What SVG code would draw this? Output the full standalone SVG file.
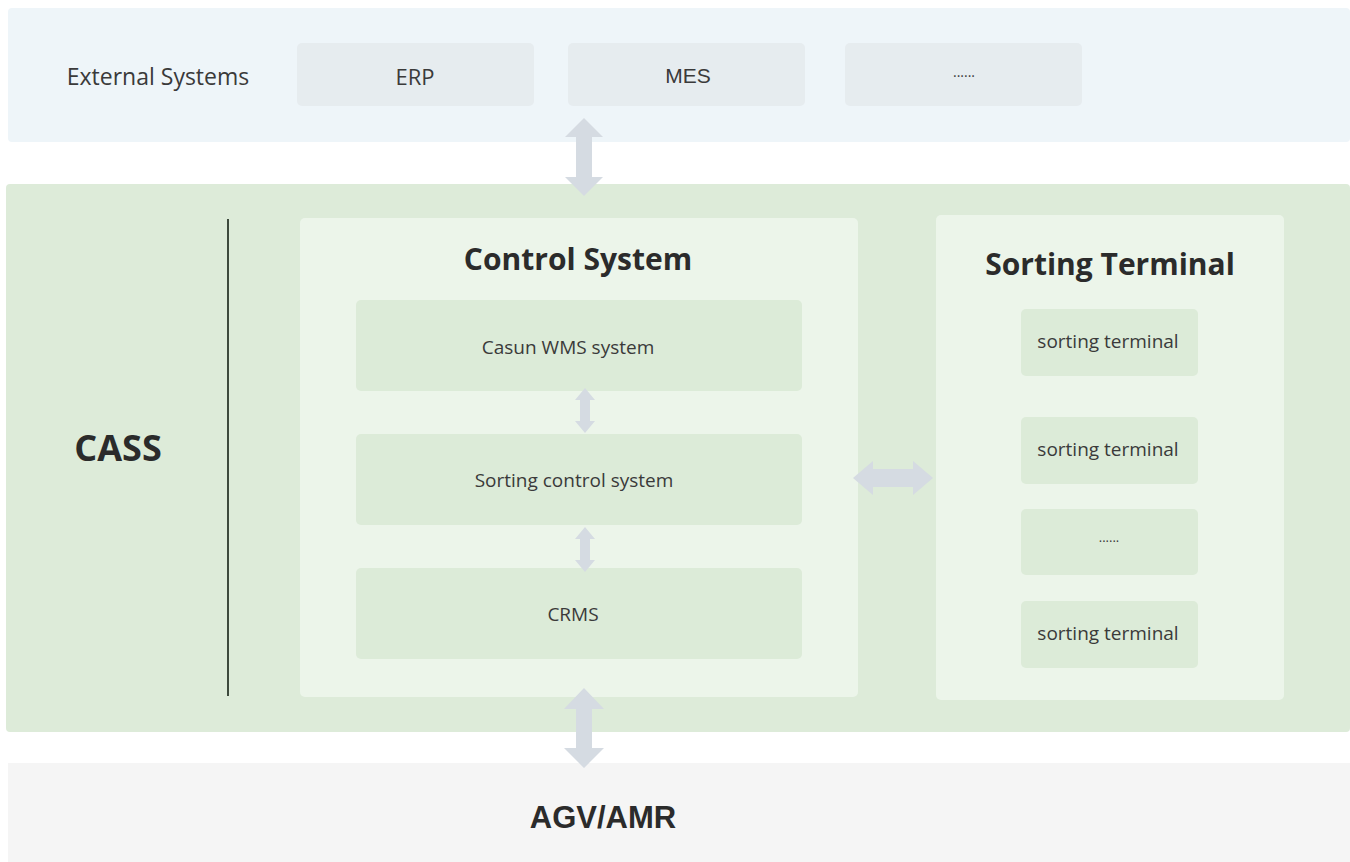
<svg xmlns="http://www.w3.org/2000/svg" width="1350" height="862" viewBox="0 0 1350 862">
<style>
.lbl{font-family:"Open Sans","Liberation Sans",sans-serif;fill:#3a3a3a;text-anchor:middle;dominant-baseline:central}
.bold{font-family:"Open Sans","Liberation Sans",sans-serif;font-weight:700;fill:#2b2b2b;text-anchor:middle;dominant-baseline:central}
.ext{fill:#e6ecef}
.inner{fill:#dcebd8}
.panel{fill:#ecf5ea}
.arrow{fill:#d5dbe2}
</style>
<rect width="1350" height="862" fill="#ffffff"/>
<g id="external-band">
<rect x="8" y="8" width="1342" height="134" rx="4" fill="#eef5f9"/>
<text class="lbl" x="158" y="76" font-size="23">External Systems</text>
</g>
<g id="erp"><rect class="ext" x="297" y="43" width="237" height="63" rx="5"/><text class="lbl" x="415" y="76" font-size="22">ERP</text></g>
<g id="mes"><rect class="ext" x="568" y="43" width="237" height="63" rx="5"/><text class="lbl" x="688" y="75" font-size="21" style="font-family:'Liberation Sans',sans-serif">MES</text></g>
<g id="ext-more"><rect class="ext" x="845" y="43" width="237" height="63" rx="5"/><text class="lbl" x="964" y="71" font-size="14">......</text></g>

<g id="cass-band">
<rect x="6" y="184" width="1344" height="548" rx="4" fill="#ddebd9"/>
<line x1="228" y1="219" x2="228" y2="696" stroke="#3d4a3d" stroke-width="2"/>
<text class="bold" x="118" y="447" font-size="36">CASS</text>
</g>

<g id="control-system">
<rect class="panel" x="300" y="218" width="558" height="479" rx="5"/>
<text class="bold" x="578" y="258" font-size="30">Control System</text>
</g>
<g id="wms"><rect class="inner" x="356" y="300" width="446" height="91" rx="5"/><text class="lbl" x="568" y="347" font-size="19">Casun WMS system</text></g>
<g id="sorting-control"><rect class="inner" x="356" y="434" width="446" height="91" rx="5"/><text class="lbl" x="574" y="480" font-size="19">Sorting control system</text></g>
<g id="crms"><rect class="inner" x="356" y="568" width="446" height="91" rx="5"/><text class="lbl" x="573" y="614" font-size="19">CRMS</text></g>

<g id="sorting-terminal">
<rect class="panel" x="936" y="215" width="348" height="485" rx="5"/>
<text class="bold" x="1110" y="263" font-size="30">Sorting Terminal</text>
</g>
<g id="st1"><rect class="inner" x="1021" y="309" width="177" height="67" rx="5"/><text class="lbl" x="1108" y="341" font-size="19">sorting terminal</text></g>
<g id="st2"><rect class="inner" x="1021" y="417" width="177" height="67" rx="5"/><text class="lbl" x="1108" y="449" font-size="19">sorting terminal</text></g>
<g id="st-more"><rect class="inner" x="1021" y="509" width="177" height="66" rx="5"/><text class="lbl" x="1109" y="537" font-size="13">......</text></g>
<g id="st3"><rect class="inner" x="1021" y="601" width="177" height="67" rx="5"/><text class="lbl" x="1108" y="633" font-size="19">sorting terminal</text></g>

<g id="agv-band">
<rect x="8" y="763" width="1342" height="99" fill="#f5f5f5"/>
<text class="bold" x="603" y="817" font-size="31" style="font-family:'Liberation Sans',sans-serif">AGV/AMR</text>
</g>

<g id="connectors">
<polygon class="arrow" points="584,118 603,137 592,137 592,177 603,177 584,196 565,177 576,177 576,137 565,137"/>
<polygon class="arrow" points="585,388 595,400 590,400 590,421 595,421 585,433 575,421 580,421 580,400 575,400"/>
<polygon class="arrow" points="585,527 595,539 590,539 590,560 595,560 585,572 575,560 580,560 580,539 575,539"/>
<polygon class="arrow" points="853,478 873,461 873,469 913,469 913,461 933,478 913,495 913,487 873,487 873,495"/>
<polygon class="arrow" points="584,688 604,709 592,709 592,748 604,748 584,768 564,748 576,748 576,709 564,709"/>
</g>
</svg>
